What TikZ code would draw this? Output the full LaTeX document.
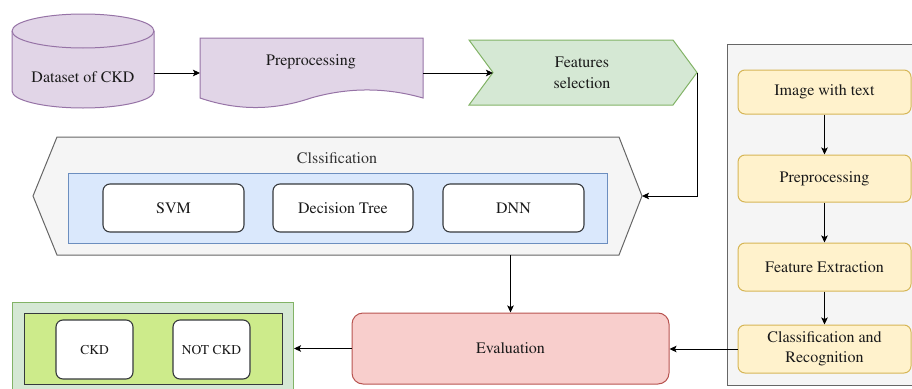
\documentclass[tikz,border=0pt]{standalone}
\usepackage[T1]{fontenc}
\usepackage{times}
\usetikzlibrary{arrows.meta}
\definecolor{pfill}{HTML}{E1D5E7}\definecolor{pline}{HTML}{9673A6}
\definecolor{gfill}{HTML}{D5E8D4}\definecolor{gline}{HTML}{82B366}
\definecolor{grfill}{HTML}{F5F5F5}\definecolor{grline}{HTML}{666666}
\definecolor{bfill}{HTML}{DAE8FC}\definecolor{bline}{HTML}{6C8EBF}
\definecolor{yfill}{HTML}{FFF2CC}\definecolor{yline}{HTML}{D6B656}
\definecolor{rfill}{HTML}{F8CECC}\definecolor{rline}{HTML}{B85450}
\definecolor{lfill}{HTML}{CDEB8B}\definecolor{dline}{HTML}{36393D}
\definecolor{txt}{HTML}{1A1A1A}\definecolor{gtxt}{HTML}{333333}
\begin{document}
\begin{tikzpicture}[x=1pt,y=-1pt,line width=1pt,
  lbl/.style={font=\fontsize{16}{20}\selectfont,text=txt,align=center,inner sep=0pt},
  small/.style={font=\fontsize{13.5}{16}\selectfont,text=txt,align=center,inner sep=0pt},
  conn/.style={-{Stealth[length=7pt,width=6.5pt,inset=1.5pt]},line width=0.9pt,black},
  ybox/.style={lbl,draw=yline,fill=yfill,rounded corners=7pt,minimum width=173pt},
  wbox/.style={lbl,draw=dline,fill=white,rounded corners=7pt,line width=1.1pt},
  shape_p/.style={draw=pline,fill=pfill},
]
\useasboundingbox (0,0) rectangle (912,388);
\clip (0,0) rectangle (912,388);

% Dataset cylinder
\draw[shape_p] (12,31) -- (12,91) arc[start angle=180,end angle=0,x radius=71,y radius=17]
  -- (154,31) arc[start angle=0,end angle=-180,x radius=71,y radius=17] -- cycle;
\draw[pline] (12,31) arc[start angle=180,end angle=0,x radius=71,y radius=17];
\node[lbl] (ds) at (83,77) {Dataset of CKD};
\coordinate (dsE) at (154,73);

% Preprocessing document
\draw[shape_p] (200,38) -- (423,38) -- (423,98)
  .. controls (385.7,87.3) and (348.3,87.3) .. (311,98)
  .. controls (273.7,110.7) and (237.3,110.7) .. (200,98) -- cycle;
\node[lbl] (pre) at (311,62) {Preprocessing};
\coordinate (preW) at (200,73);
\coordinate (preE) at (423,73);

% Features selection chevron
\draw[draw=gline,fill=gfill] (469,40) -- (673,40) -- (697,72.5) -- (673,105) -- (469,105) -- (493,72.5) -- cycle;
\node[lbl,font=\fontsize{16}{21}\selectfont] (fs) at (582,72.5) {Features\\selection};
\coordinate (fsW) at (493,73);
\coordinate (fsE) at (697,72.5);

% Classification hexagon
\draw[draw=grline,fill=grfill] (33,196) -- (57,137) -- (619,137) -- (642,196) -- (619,255) -- (57,255) -- cycle;
\node[lbl,text=gtxt] (cl) at (337,158) {Clssification};
\coordinate (hexE) at (642,196);
\coordinate (hexS) at (510.5,255);
\draw[draw=bline,fill=bfill] (68,173) rectangle (607,243);
\node[wbox,minimum width=141pt,minimum height=48pt] (svm) at (173.5,208) {SVM};
\node[wbox,minimum width=140pt,minimum height=48pt] (dt) at (343,208) {Decision Tree};
\node[wbox,minimum width=141pt,minimum height=48pt] (dnn) at (513.5,208) {DNN};

% Right gray container
\draw[draw=grline,fill=grfill] (727,44) rectangle (940,385);
\node[ybox,minimum height=44pt] (y1) at (824.5,92) {Image with text};
\node[ybox,minimum height=47pt] (y2) at (824.5,178.5) {Preprocessing};
\node[ybox,minimum height=48pt] (y3) at (824.5,267) {Feature Extraction};
\node[ybox,minimum height=48pt] (y4) at (824.5,349) {Classification and\\Recognition};

% Evaluation
\node[lbl,draw=rline,fill=rfill,rounded corners=11pt,minimum width=317pt,minimum height=71pt] (ev) at (510.5,348.5) {Evaluation};

% Output boxes
\node[draw=gline,fill=gfill,minimum width=281pt,minimum height=95pt,anchor=north west,inner sep=0pt] (out) at (12,302) {};
\draw[draw=dline,fill=lfill] (24,313) rectangle (282,384);
\node[wbox,small,minimum width=77pt,minimum height=59pt] (ckd) at (94.5,349.5) {CKD};
\node[wbox,small,minimum width=77pt,minimum height=59pt] (nckd) at (211.5,349.5) {NOT CKD};

% Connectors
\draw[conn] (dsE) -- (preW);
\draw[conn] (preE) -- (fsW);
\draw[conn] (fsE) |- (hexE);
\draw[conn] (hexS) -- (ev.north);
\draw[conn] (y1.south) -- (y2.north);
\draw[conn] (y2.south) -- (y3.north);
\draw[conn] (y3.south) -- (y4.north);
\draw[conn] (y4.west) -- (y4.west -| ev.east);
\draw[conn] (ev.west) -- (ev.west -| out.east);
\end{tikzpicture}
\end{document}
